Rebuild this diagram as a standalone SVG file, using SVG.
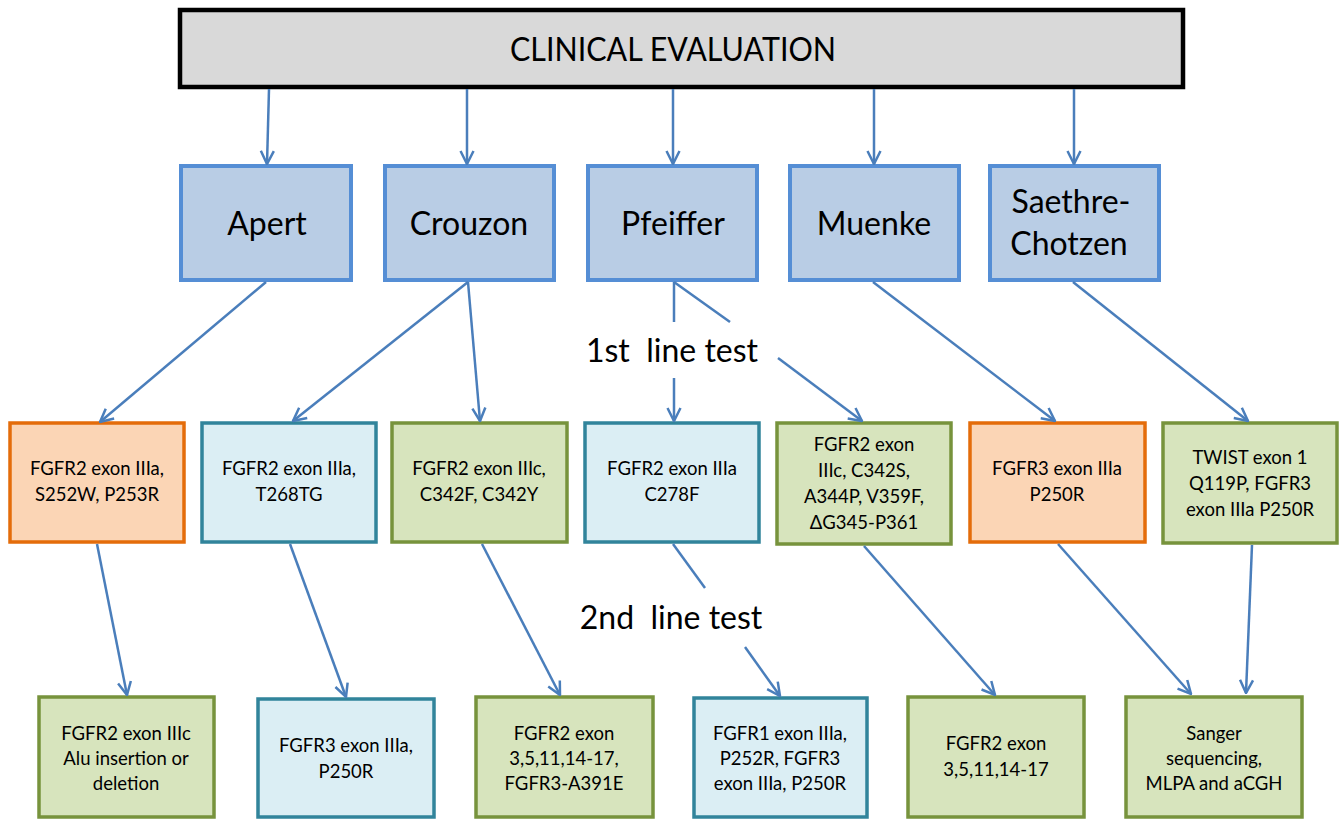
<svg xmlns="http://www.w3.org/2000/svg" width="1340" height="819" viewBox="0 0 1340 819">
<style>
  text { font-family: Lato, "Liberation Sans", sans-serif; fill: #000; text-anchor: middle; }
  .title { font-size: 33px; }
  .syn { font-size: 32px; }
  .step { font-size: 32px; white-space: pre; }
  .t { font-size: 18.5px; }
  .top { fill: #d9d9d9; stroke: #000; stroke-width: 4.5; }
  .syn-box { fill: #b9cde5; stroke: #558ed5; stroke-width: 4; }
  .orange { fill: #fbd5b5; stroke: #e46c0a; stroke-width: 3.5; }
  .blue { fill: #dbeef4; stroke: #31849b; stroke-width: 3.5; }
  .green { fill: #d7e4bd; stroke: #77933c; stroke-width: 3.5; }
  .conn line { stroke: #4a7ebb; stroke-width: 2.5; fill: none; }
  .arr { marker-end: url(#ah); }
</style>
<defs>
  <marker id="ah" markerUnits="userSpaceOnUse" markerWidth="16" markerHeight="16" viewBox="0 0 16 16" refX="15" refY="8" orient="auto">
    <path d="M2,1.5 L15,8 L2,14.5" fill="none" stroke="#4a7ebb" stroke-width="2.5"/>
  </marker>
</defs>
<rect width="1340" height="819" fill="#fff"/>

<g id="clinical-evaluation">
  <rect class="top" x="180" y="10" width="1003" height="77"/>
  <text class="title" x="673" y="61" textLength="326" lengthAdjust="spacingAndGlyphs">CLINICAL EVALUATION</text>
</g>

<g id="apert"><rect class="syn-box" x="181" y="166" width="170" height="114"/><text class="syn" x="267" y="235">Apert</text></g>
<g id="crouzon"><rect class="syn-box" x="385" y="166" width="169" height="114"/><text class="syn" x="469" y="235">Crouzon</text></g>
<g id="pfeiffer"><rect class="syn-box" x="588" y="166" width="169" height="114"/><text class="syn" x="673" y="235">Pfeiffer</text></g>
<g id="muenke"><rect class="syn-box" x="790" y="166" width="169" height="114"/><text class="syn" x="874" y="235">Muenke</text></g>
<g id="saethre-chotzen"><rect class="syn-box" x="990" y="166" width="169" height="114"/><text class="syn" x="1071" y="213">Saethre-</text><text class="syn" x="1069" y="255">Chotzen</text></g>

<g id="first-line-label"><text class="step" x="672" y="362">1st  line test</text></g>
<g id="second-line-label"><text class="step" x="671" y="629">2nd  line test</text></g>

<g id="apert-1st"><rect class="orange" x="10" y="423" width="174" height="119"/>
  <text class="t" x="97" y="475">FGFR2 exon IIIa,</text><text class="t" x="97" y="501">S252W, P253R</text></g>
<g id="crouzon-1st-a"><rect class="blue" x="202" y="423" width="174" height="119"/>
  <text class="t" x="289" y="475">FGFR2 exon IIIa,</text><text class="t" x="289" y="501">T268TG</text></g>
<g id="crouzon-1st-b"><rect class="green" x="392" y="423" width="175" height="119"/>
  <text class="t" x="479" y="475">FGFR2 exon IIIc,</text><text class="t" x="479" y="501">C342F, C342Y</text></g>
<g id="pfeiffer-1st"><rect class="blue" x="585" y="423" width="174" height="119"/>
  <text class="t" x="672" y="475">FGFR2 exon IIIa</text><text class="t" x="672" y="501">C278F</text></g>
<g id="muenke-pf-1st"><rect class="green" x="777" y="423" width="174" height="121"/>
  <text class="t" x="864" y="451">FGFR2 exon</text><text class="t" x="864" y="477">IIIc, C342S,</text><text class="t" x="864" y="503">A344P, V359F,</text><text class="t" x="864" y="529">ΔG345-P361</text></g>
<g id="muenke-1st"><rect class="orange" x="970" y="423" width="175" height="119"/>
  <text class="t" x="1057" y="475">FGFR3 exon IIIa</text><text class="t" x="1057" y="501">P250R</text></g>
<g id="saethre-1st"><rect class="green" x="1163" y="423" width="174" height="120"/>
  <text class="t" x="1250" y="464">TWIST exon 1</text><text class="t" x="1250" y="490">Q119P, FGFR3</text><text class="t" x="1250" y="516">exon IIIa P250R</text></g>

<g id="apert-2nd"><rect class="green" x="39" y="697" width="175" height="120"/>
  <text class="t" x="126" y="740">FGFR2 exon IIIc</text><text class="t" x="126" y="765">Alu insertion or</text><text class="t" x="126" y="790">deletion</text></g>
<g id="crouzon-2nd-a"><rect class="blue" x="258" y="699" width="176" height="118"/>
  <text class="t" x="346" y="752">FGFR3 exon IIIa,</text><text class="t" x="346" y="778">P250R</text></g>
<g id="crouzon-2nd-b"><rect class="green" x="476" y="697" width="177" height="120"/>
  <text class="t" x="564" y="740">FGFR2 exon</text><text class="t" x="564" y="765">3,5,11,14-17,</text><text class="t" x="564" y="790">FGFR3-A391E</text></g>
<g id="pfeiffer-2nd"><rect class="blue" x="694" y="698" width="173" height="119"/>
  <text class="t" x="780" y="740">FGFR1 exon IIIa,</text><text class="t" x="780" y="765">P252R, FGFR3</text><text class="t" x="780" y="790">exon IIIa, P250R</text></g>
<g id="muenke-pf-2nd"><rect class="green" x="908" y="697" width="176" height="120"/>
  <text class="t" x="996" y="750">FGFR2 exon</text><text class="t" x="996" y="776">3,5,11,14-17</text></g>
<g id="saethre-2nd"><rect class="green" x="1126" y="697" width="176" height="120"/>
  <text class="t" x="1214" y="740">Sanger</text><text class="t" x="1214" y="765">sequencing,</text><text class="t" x="1214" y="790">MLPA and aCGH</text></g>

<g id="connectors" class="conn">
  <line class="arr" x1="269" y1="89" x2="267" y2="164"/>
  <line class="arr" x1="467" y1="89" x2="467" y2="164"/>
  <line class="arr" x1="673" y1="89" x2="673" y2="164"/>
  <line class="arr" x1="874" y1="89" x2="874" y2="164"/>
  <line class="arr" x1="1074" y1="89" x2="1074" y2="164"/>

  <line class="arr" x1="266" y1="282" x2="100" y2="422"/>
  <line class="arr" x1="468" y1="282" x2="293" y2="421"/>
  <line class="arr" x1="468" y1="282" x2="480" y2="421"/>
  <line x1="674" y1="282" x2="674" y2="322"/>
  <line class="arr" x1="674" y1="378" x2="674" y2="421"/>
  <line x1="674" y1="282" x2="730" y2="322"/>
  <line class="arr" x1="778" y1="358" x2="862" y2="421"/>
  <line class="arr" x1="873" y1="282" x2="1055" y2="421"/>
  <line class="arr" x1="1073" y1="282" x2="1248" y2="421"/>

  <line class="arr" x1="97" y1="544" x2="127" y2="695"/>
  <line class="arr" x1="290" y1="544" x2="346" y2="697"/>
  <line class="arr" x1="482" y1="544" x2="560" y2="695"/>
  <line x1="673" y1="544" x2="705" y2="588"/>
  <line class="arr" x1="745" y1="647" x2="780" y2="696"/>
  <line class="arr" x1="864" y1="546" x2="995" y2="695"/>
  <line class="arr" x1="1058" y1="544" x2="1191" y2="694"/>
  <line class="arr" x1="1252" y1="545" x2="1246" y2="693"/>
</g>
</svg>
